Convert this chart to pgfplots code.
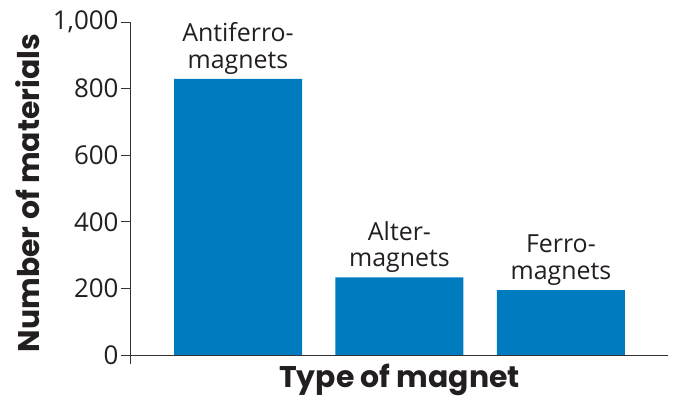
\documentclass[border=0pt]{standalone}
\usepackage{pgfplots}
\pgfplotsset{compat=1.18}
\usepackage{fontspec}
\setmainfont{Open Sans}
\newfontfamily\titlefont{Poppins}
\definecolor{barblue}{HTML}{007BC0}
\definecolor{txt}{HTML}{231F20}
\begin{document}
\begin{tikzpicture}[x=1bp,y=1bp]
\useasboundingbox (-130bp,-36bp) rectangle (550bp,364bp);
\begin{axis}[
  at={(0,0)}, anchor=south west,
  scale only axis, width=538bp, height=342bp,
  xmin=-0.669, xmax=2.663, ymin=-27, ymax=1000,
  axis x line=none, axis y line=left,
  axis line style={-, black!80, line width=0.8pt},
  ytick={0,200,400,600,800,1000},
  yticklabel style={font=\fontsize{26}{26}\selectfont, text=txt, xshift=1bp},
  /pgf/number format/assume math mode=true,
  /pgf/number format/1000 sep={,},
  tick style={black!80, line width=0.8pt},
  major tick length=9bp,
  tick align=outside,
  clip=false,
  ybar, bar width=128bp,
  point meta=explicit symbolic,
  nodes near coords,
  nodes near coords style={font=\fontsize{25}{27}\selectfont, text=txt, align=center, anchor=south, yshift=1bp},
]
\addplot[fill=barblue, draw=none] coordinates {
  (0,829) [{Antiferro-\\magnets}]
  (1,233) [{Alter-\\magnets}]
  (2,195) [{Ferro-\\magnets}]
};
\draw[black!80, line width=0.8pt] (axis cs:-0.669,0) -- (axis cs:2.663,0);
\node[font=\titlefont\bfseries\fontsize{30}{30}\selectfont, text=txt, anchor=north, inner sep=0bp] at (axis cs:1,-27) {Type of magnet};
\node[font=\titlefont\bfseries\fontsize{30}{30}\selectfont, text=txt, rotate=90, anchor=center] at ([xshift=-102bp]rel axis cs:0,0.5) {Number of materials};
\end{axis}
\end{tikzpicture}
\end{document}
